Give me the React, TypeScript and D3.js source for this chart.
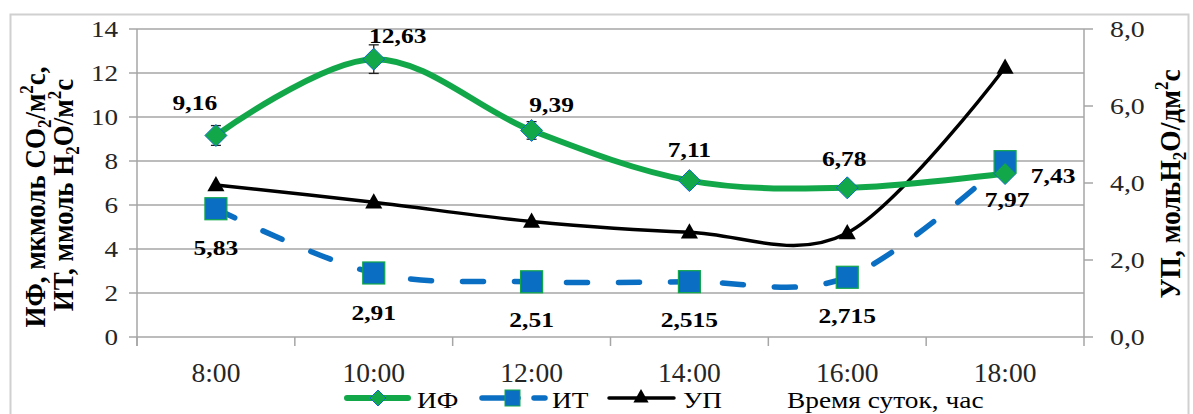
import React from 'react';
import * as d3 from 'd3';

// Time of day categories
const hours = ['8:00', '10:00', '12:00', '14:00', '16:00', '18:00'];
// ИФ — photosynthesis intensity, мкмоль CO2/м2с
const ifValues = [9.16, 12.63, 9.39, 7.11, 6.78, 7.43];
const ifErrors = [0.45, 0.65, 0.4, 0.2, 0.2, 0.2];
// ИТ — transpiration intensity, ммоль H2O/м2с
const itValues = [5.83, 2.91, 2.51, 2.515, 2.715, 7.97];
// УП — water loss, моль H2O/дм2с (right axis)
const upValues = [3.95, 3.5, 3.0, 2.72, 2.7, 7.0];

const leftTicks = [0, 2, 4, 6, 8, 10, 12, 14];
const rightTicks = [0, 2, 4, 6, 8];

// label placement relative to each point [dx, dy]
const ifLabelOffsets: [number, number][] = [[-21, -25], [24, -16], [20, -18], [0, -24], [-3, -22], [48, 9]];
const itLabelOffsets: [number, number][] = [[0, 46], [0, 47], [0, 45], [0, 45], [0, 46], [2, 45]];

const W = 1193;
const H = 414;
const plot = { left: 137, right: 1084, top: 29, bottom: 337 };

const GREEN = '#12a84a';
const BLUE = '#0a6fc2';
const GRID = '#a6a6a6';
const TEXT = '#262626';
const SERIF = '"Liberation Serif", "DejaVu Serif", "Times New Roman", serif';

const fmt = (v: number) => String(v).replace('.', ',');
const fmt1 = (v: number) => v.toFixed(1).replace('.', ',');

// text with a horizontal stretch around its anchor point
function SText({ x, y, sx = 1, children, ...rest }: any) {
  return (
    <text transform={`translate(${x},${y}) scale(${sx},1)`} {...rest}>
      {children}
    </text>
  );
}

export default function App() {
  const x = d3.scaleBand<string>().domain(hours).range([plot.left, plot.right]);
  const cx = (h: string) => (x(h) as number) + x.bandwidth() / 2;
  const yL = d3.scaleLinear().domain([0, 14]).range([plot.bottom, plot.top]);
  const yR = d3.scaleLinear().domain([0, 8]).range([plot.bottom, plot.top]);

  const curve = d3.curveCardinal.tension(0);
  const ifLine = d3.line<number>().x((_, i) => cx(hours[i])).y((d) => yL(d)).curve(curve);
  const itLine = d3.line<number>().x((_, i) => cx(hours[i])).y((d) => yL(d)).curve(curve);
  const upLine = d3.line<number>().x((_, i) => cx(hours[i])).y((d) => yR(d)).curve(curve);

  const diamond = (px: number, py: number, r: number) =>
    `M${px},${py - r}L${px + r},${py}L${px},${py + r}L${px - r},${py}Z`;
  const triangle = (px: number, py: number, r: number) =>
    `M${px},${py - r}L${px + r * 0.95},${py + r * 0.7}L${px - r * 0.95},${py + r * 0.7}Z`;

  const boundaries = d3.range(hours.length + 1).map((i) => plot.left + i * x.step());
  const legendY = 398;

  return (
    <svg width={W} height={H} style={{ position: 'absolute', left: 0, top: 0, background: '#fff' }}
      fontFamily={SERIF}>
      {/* outer chart frame */}
      <rect x={10.5} y={14.5} width={1178} height={420} fill="#fff" stroke="#d0d0d0" strokeWidth={2} />

      {/* gridlines and left ticks */}
      {leftTicks.map((t) => (
        <line key={'g' + t} x1={plot.left - 8} x2={plot.right} y1={yL(t)} y2={yL(t)} stroke={GRID} strokeWidth={1.5} />
      ))}
      {/* left axis */}
      <line x1={plot.left} x2={plot.left} y1={plot.top} y2={plot.bottom + 9} stroke={GRID} strokeWidth={1.5} />
      {/* right axis */}
      <line x1={plot.right} x2={plot.right} y1={plot.top} y2={plot.bottom} stroke={GRID} strokeWidth={1.5} />
      {rightTicks.map((t) => (
        <line key={'r' + t} x1={plot.right} x2={plot.right + 9} y1={yR(t)} y2={yR(t)} stroke={GRID} strokeWidth={1.5} />
      ))}
      {/* category tick marks */}
      {boundaries.map((b, i) => (
        <line key={'b' + i} x1={b} x2={b} y1={plot.bottom} y2={plot.bottom + 9} stroke={GRID} strokeWidth={1.5} />
      ))}

      {/* left tick labels */}
      {leftTicks.map((t) => (
        <SText key={'lt' + t} x={118} y={yL(t) + 8} sx={1.18} textAnchor="end" fontSize={23} fill={TEXT}>{t}</SText>
      ))}
      {/* right tick labels */}
      {rightTicks.map((t) => (
        <SText key={'rt' + t} x={1110} y={yR(t) + 8} sx={1.16} textAnchor="start" fontSize={24} fill={TEXT}>{fmt1(t)}</SText>
      ))}
      {/* category labels */}
      {hours.map((h) => (
        <SText key={'c' + h} x={cx(h)} y={382} sx={1.02} textAnchor="middle" fontSize={27} fill={TEXT}>{h}</SText>
      ))}

      {/* left axis title */}
      <g transform="translate(45,197) scale(1.1,1) rotate(-90)" fontWeight="bold" fontSize={27} fill="#000">
        <text textAnchor="middle">
          ИФ, мкмоль CO<tspan fontSize={17} dy={5}>2</tspan><tspan dy={-5}>/м</tspan>
          <tspan fontSize={17} dy={-11}>2</tspan><tspan dy={11}>с,</tspan>
        </text>
      </g>
      <g transform="translate(73,195) scale(1.1,1) rotate(-90)" fontWeight="bold" fontSize={27} fill="#000">
        <text textAnchor="middle">
          ИТ, ммоль H<tspan fontSize={17} dy={5}>2</tspan><tspan dy={-5}>O/м</tspan>
          <tspan fontSize={17} dy={-11}>2</tspan><tspan dy={11}>с</tspan>
        </text>
      </g>
      {/* right axis title */}
      <g transform="translate(1180,184) scale(1.1,1) rotate(-90)" fontWeight="bold" fontSize={27.5} fill="#000">
        <text textAnchor="middle">
          УП, мольH<tspan fontSize={17} dy={5}>2</tspan><tspan dy={-5}>O/дм</tspan>
          <tspan fontSize={17} dy={-11}>2</tspan><tspan dy={11}>с</tspan>
        </text>
      </g>

      {/* УП series */}
      <path d={upLine(upValues) as string} fill="none" stroke="#000" strokeWidth={3.5} />
      {upValues.map((v, i) => (
        <path key={'up' + i} d={triangle(cx(hours[i]), yR(v), 9)} fill="#000" />
      ))}

      {/* ИТ series */}
      <path d={itLine(itValues) as string} fill="none" stroke={BLUE} strokeWidth={5.5}
        strokeDasharray="21 31" strokeLinecap="round" />
      {itValues.map((v, i) => (
        <rect key={'it' + i} x={cx(hours[i]) - 11} y={yL(v) - 11} width={22} height={22}
          fill={BLUE} stroke={GREEN} strokeWidth={1.2} />
      ))}

      {/* ИФ series */}
      <path d={ifLine(ifValues) as string} fill="none" stroke={GREEN} strokeWidth={6} />
      {ifValues.map((v, i) => {
        const px = cx(hours[i]);
        return (
          <g key={'if' + i}>
            <line x1={px} x2={px} y1={yL(v - ifErrors[i])} y2={yL(v + ifErrors[i])} stroke="#222" strokeWidth={1.3} />
            <line x1={px - 5} x2={px + 5} y1={yL(v - ifErrors[i])} y2={yL(v - ifErrors[i])} stroke="#222" strokeWidth={1.3} />
            <line x1={px - 5} x2={px + 5} y1={yL(v + ifErrors[i])} y2={yL(v + ifErrors[i])} stroke="#222" strokeWidth={1.3} />
            <path d={diamond(px, yL(v), 11)} fill={GREEN} stroke={BLUE} strokeWidth={1} />
          </g>
        );
      })}

      {/* data labels */}
      {ifValues.map((v, i) => (
        <SText key={'ifl' + i} x={cx(hours[i]) + ifLabelOffsets[i][0]} y={yL(v) + ifLabelOffsets[i][1]} sx={1.16}
          textAnchor="middle" fontSize={22} fontWeight="bold" fill="#000">{fmt(v)}</SText>
      ))}
      {itValues.map((v, i) => (
        <SText key={'itl' + i} x={cx(hours[i]) + itLabelOffsets[i][0]} y={yL(v) + itLabelOffsets[i][1]} sx={1.16}
          textAnchor="middle" fontSize={22} fontWeight="bold" fill="#000">{fmt(v)}</SText>
      ))}

      {/* legend */}
      <g fontSize={23} fill="#000">
        <line x1={347} x2={408} y1={legendY} y2={legendY} stroke={GREEN} strokeWidth={6} strokeLinecap="round" />
        <path d={diamond(378, legendY, 8)} fill={GREEN} stroke={BLUE} strokeWidth={1} />
        <SText x={417} y={408} sx={1.19}>ИФ</SText>

        <line x1={482} x2={518} y1={legendY} y2={legendY} stroke={BLUE} strokeWidth={5.5} strokeLinecap="round" />
        <line x1={534} x2={545} y1={legendY} y2={legendY} stroke={BLUE} strokeWidth={5.5} strokeLinecap="round" />
        <rect x={505} y={390} width={15} height={16} fill={BLUE} stroke={GREEN} strokeWidth={1} />
        <SText x={552} y={408} sx={1.19}>ИТ</SText>

        <line x1={609} x2={674} y1={legendY} y2={legendY} stroke="#000" strokeWidth={3.5} strokeLinecap="round" />
        <path d={triangle(641, legendY - 1, 8)} fill="#000" />
        <SText x={683} y={408} sx={1.19}>УП</SText>

        <SText x={787} y={408} sx={1.19}>Время суток, час</SText>
      </g>
    </svg>
  );
}
